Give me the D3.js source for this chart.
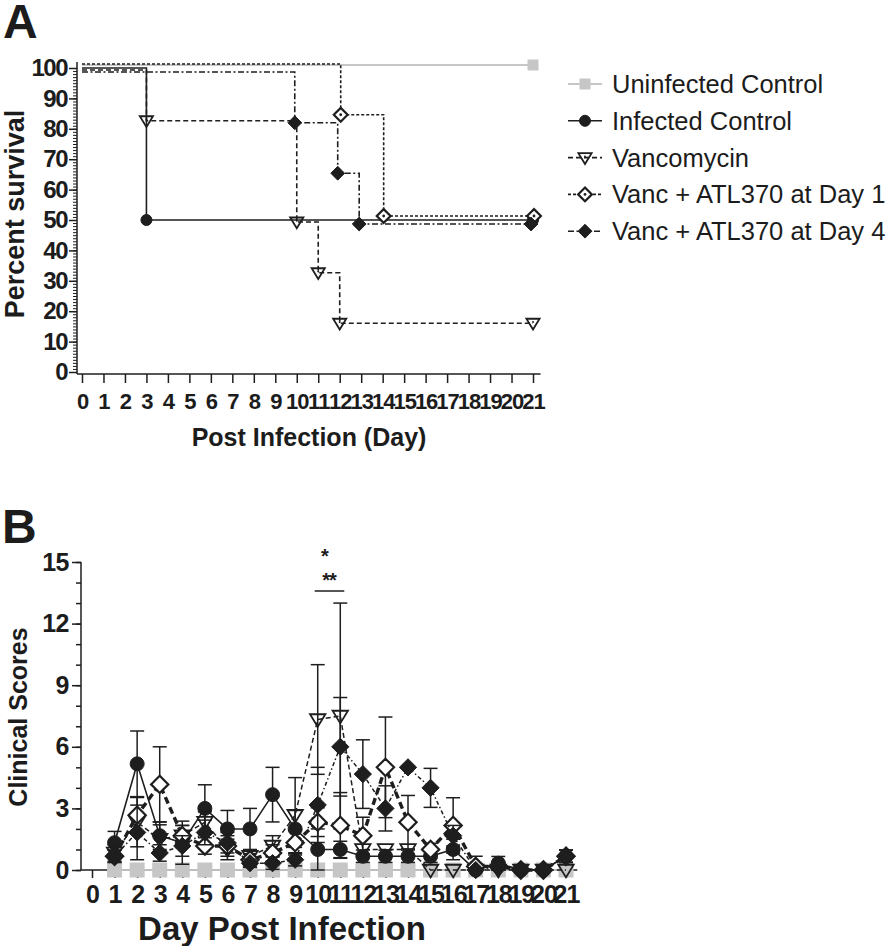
<!DOCTYPE html>
<html><head><meta charset="utf-8">
<script src="https://cdn.jsdelivr.net/npm/d3@7"></script>
<style>
body{margin:0;background:#fff}
text{font-family:"Liberation Sans",Arial,Helvetica,sans-serif;fill:#1c1c1c}
</style>
</head><body>
<svg id="c" width="893" height="946"></svg>
<script>
// ================= DATA =================
const seriesNames = ["Uninfected Control","Infected Control","Vancomycin","Vanc + ATL370 at Day 1","Vanc + ATL370 at Day 4"];

// Panel A: Kaplan–Meier survival (day, percent)
const uninfSurvDays = [0, 21];               const uninfSurv = [100, 100];
const infSurvDays   = [0, 3, 21];            const infSurv   = [100, 50, 50];
const vancSurvDays  = [0, 3, 10, 11, 12, 21]; const vancSurv  = [100, 83.3, 50, 33.3, 16.7, 16.7];
const d1SurvDays    = [0, 12, 14, 21];       const d1Surv    = [100, 83.3, 50, 50];
const d4SurvDays    = [0, 10, 12, 13, 21];   const d4Surv    = [100, 83.3, 66.7, 50, 50];

const dayTicks = [0,1,2,3,4,5,6,7,8,9,10,11,12,13,14,15,16,17,18,19,20,21];
const survTicks = [0,10,20,30,40,50,60,70,80,90,100];
const scoreTicks = [0,3,6,9,12,15];

// Panel B: clinical scores (mean ± SEM), days 1..21
const scoreDays  = [1,2,3,4,5,6,7,8,9,10,11,12,13,14,15,16,17,18,19,20,21];
const uninfScore = [0,0,0,0,0,0,0,0,0,0,0,0,0,0,0,0,0,0,0,0,0];
const infScore   = [1.33,5.17,1.67,1.33,3.0,2.0,2.0,3.67,2.0,1.0,1.0,0.67,0.67,0.67,0.67,1.0,0,0.33,0,0,0.67];
const infSem     = [0.55,1.6,0.67,1.05,1.15,0.9,1.0,1.33,0.9,1.0,0.4,0.3,0.3,0.3,0.3,0.5,0,0.33,0,0,0.3];
const vancScore  = [0.83,2.33,1.5,1.67,2.33,1.0,0.67,1.17,2.67,7.33,7.5,1.0,1.0,1.0,0,0,0,0,0,0,0];
const vancSem    = [0.4,1.2,0.7,0.5,0.5,0.5,0.3,0.5,1.83,2.67,5.5,0,0,0,0,0,0,0,0,0,0];
const d1Score    = [0.67,2.67,4.17,1.67,1.17,1.17,0.5,0.83,1.33,2.33,2.17,1.67,5.0,2.33,1.0,2.17,0.17,0.17,0,0,0.67];
const d1Sem      = [0.3,0.9,1.83,0.5,0.4,0.5,0.3,0.4,0.6,0.7,1.6,0.9,2.45,1.3,0.3,1.35,0.5,0.17,0,0,0.3];
const d4Score    = [0.67,1.83,0.83,1.17,1.83,1.33,0.33,0.33,0.5,3.17,6.0,4.67,3.0,5.0,4.0,1.67,0,0.17,0,0,0.67];
const d4Sem      = [0.3,1.33,0.4,0.5,0.6,0.5,0.2,0.3,0.3,1.83,2.4,1.67,1.1,0,0.95,0.5,0,0.2,0,0,0.3];

const sigDays = [10, 11];
const sigLabels = ["*", "**"];

// ================= STYLES =================
const INK = "#1e1e1e", GRAY = "#c6c6c6";
const styles = [
  {sym:"square",  fill:GRAY,  stroke:GRAY, dash:null,        lineColor:GRAY},
  {sym:"circle",  fill:INK,   stroke:INK,  dash:null,        lineColor:INK},
  {sym:"tri",     fill:"none",stroke:INK,  dash:"5,3",       lineColor:INK},
  {sym:"odiamond",fill:"#fff",stroke:INK,  dash:"3,2",       lineColor:INK},
  {sym:"diamond", fill:INK,   stroke:INK,  dash:"6,2.5,2,2.5",lineColor:INK}
];
const bDash = [null, null, "5,3", "7,4", "4,2.5,1.5,2.5"];
const bWidth = [2, 1.6, 1.5, 3.4, 1.5];

function drawMarker(g, sym, x, y, s, st, dot) {
  if (sym === "circle") {
    g.append("circle").attr("cx",x).attr("cy",y).attr("r",s).attr("fill",st.fill).attr("stroke",st.stroke).attr("stroke-width",1);
  } else if (sym === "square") {
    g.append("rect").attr("x",x-s).attr("y",y-s).attr("width",2*s).attr("height",2*s).attr("fill",st.fill);
  } else if (sym === "tri") {
    const w = s*1.1, h = s*1.0;
    g.append("path").attr("d",`M${x-w},${y-h*0.75}L${x+w},${y-h*0.75}L${x},${y+h*1.05}Z`)
      .attr("fill",st.fill).attr("stroke",st.stroke).attr("stroke-width",1.8).attr("stroke-linejoin","miter");
    if (dot) g.append("circle").attr("cx",x).attr("cy",y-h*0.2).attr("r",1).attr("fill",INK);
  } else if (sym === "odiamond" || sym === "diamond") {
    const r = s*1.15;
    g.append("path").attr("d",`M${x},${y-r}L${x+r},${y}L${x},${y+r}L${x-r},${y}Z`)
      .attr("fill",st.fill).attr("stroke",st.stroke).attr("stroke-width", sym==="odiamond"?2.2:1);
    if (dot && sym==="odiamond") g.append("circle").attr("cx",x).attr("cy",y).attr("r",1.4).attr("fill",INK);
  }
}

const svg = d3.select("#c");

// ================= PANEL A =================
const xA = d3.scaleLinear().domain([0,21]).range([82,533]);
const yA = d3.scaleLinear().domain([0,100]).range([372,68]);
const gA = svg.append("g");

svg.append("text").attr("x",3).attr("y",38).attr("font-size",48).attr("font-weight","bold").text("A");

// axes
const yAxisX = 77, xAxisY = 374;
gA.append("g").attr("transform",`translate(${yAxisX},0)`)
  .call(d3.axisLeft(yA).tickValues(d3.range(0,101,1)).tickSize(4).tickFormat(""))
  .call(g=>{g.select(".domain").remove(); g.selectAll("line").attr("stroke",INK).attr("stroke-width",1);});
gA.append("g").attr("transform",`translate(${yAxisX},0)`)
  .call(d3.axisLeft(yA).tickValues(survTicks).tickSize(8).tickPadding(2))
  .call(g=>{g.select(".domain").remove(); g.selectAll("line").attr("stroke",INK).attr("stroke-width",1.5);
    g.selectAll("text").attr("font-size",24).attr("font-weight","bold").attr("letter-spacing","-1.5px").attr("fill","#1c1c1c")
     .style("font-family",'"Liberation Sans",Arial,sans-serif');});
gA.append("line").attr("x1",yAxisX).attr("x2",yAxisX).attr("y1",xAxisY).attr("y2",yA(102)).attr("stroke",INK).attr("stroke-width",1.5);

gA.append("g").attr("transform",`translate(0,${xAxisY})`)
  .call(d3.axisBottom(xA).tickValues(dayTicks).tickSize(9).tickPadding(10))
  .call(g=>{g.select(".domain").remove(); g.selectAll("line").attr("stroke",INK).attr("stroke-width",1.5);
    g.selectAll("text").attr("font-size",22).attr("font-weight","bold").attr("letter-spacing","-1px").attr("fill","#1c1c1c")
     .style("font-family",'"Liberation Sans",Arial,sans-serif');});
gA.append("line").attr("x1",yAxisX).attr("x2",xA(21.35)).attr("y1",xAxisY).attr("y2",xAxisY).attr("stroke",INK).attr("stroke-width",1.5);

gA.append("text").attr("transform",`translate(24,214) rotate(-90)`).attr("text-anchor","middle")
  .attr("font-size",27).attr("font-weight","bold").text("Percent survival");
gA.append("text").attr("x",309).attr("y",446).attr("text-anchor","middle")
  .attr("font-size",25).attr("font-weight","bold").text("Post Infection (Day)");

// curves
const survSets = [
  [uninfSurvDays, uninfSurv], [infSurvDays, infSurv], [vancSurvDays, vancSurv],
  [d1SurvDays, d1Surv], [d4SurvDays, d4Surv]
];
const offY = [-3, 0, 2, -4, 4];   // Prism-style small offsets so overlapping curves stay visible
const offX = [0, 0, 0, 1, -2];
const drawOrderA = [0, 1, 2, 3, 4];
drawOrderA.forEach(i => {
  const [ds, vs] = survSets[i];
  const st = styles[i];
  const pts = ds.map((d,k)=>[xA(d)+offX[i], yA(vs[k])+offY[i]]);
  pts[0][0] = xA(0);
  const line = d3.line().curve(d3.curveStepAfter);
  gA.append("path").attr("d", line(pts)).attr("fill","none")
    .attr("stroke", st.lineColor).attr("stroke-width", i===0?2:1.6)
    .attr("stroke-dasharray", st.dash);
});
drawOrderA.forEach(i => {
  const [ds, vs] = survSets[i];
  const st = styles[i];
  ds.forEach((d,k)=>{
    if (k===0) return;
    drawMarker(gA, st.sym, xA(d)+offX[i], yA(vs[k])+offY[i], i===0?5.5:(i===1?5.5:6), st, true);
  });
});

// legend
const legG = svg.append("g");
seriesNames.forEach((name,i)=>{
  const y = 84 + i*36.8;
  const st = styles[i];
  legG.append("line").attr("x1",568).attr("x2",602).attr("y1",y).attr("y2",y)
    .attr("stroke",st.lineColor).attr("stroke-width", i===0?2:1.6).attr("stroke-dasharray", st.dash);
  drawMarker(legG, st.sym, 585, y, i===0?5.5:(i===1?5.5:6), st, true);
  legG.append("text").attr("x",612).attr("y",y+9).attr("font-size",25.5).text(name);
});

// ================= PANEL B =================
const xB = d3.scaleLinear().domain([0,21]).range([92,566]);
const yB = d3.scaleLinear().domain([0,15]).range([870,562]);
const gB = svg.append("g");

svg.append("text").attr("x",2).attr("y",543).attr("font-size",48).attr("font-weight","bold").text("B");

const yAxisXB = 81;
gB.append("g").attr("transform",`translate(${yAxisXB},0)`)
  .call(d3.axisLeft(yB).tickValues(d3.range(0,16,1)).tickSize(5).tickFormat(""))
  .call(g=>{g.select(".domain").remove(); g.selectAll("line").attr("stroke",INK).attr("stroke-width",1.5);});
gB.append("g").attr("transform",`translate(${yAxisXB},0)`)
  .call(d3.axisLeft(yB).tickValues(scoreTicks).tickSize(9).tickPadding(3))
  .call(g=>{g.select(".domain").remove(); g.selectAll("line").attr("stroke",INK).attr("stroke-width",1.5);
    g.selectAll("text").attr("font-size",25).attr("font-weight","bold").attr("letter-spacing","-0.5px").attr("fill","#1c1c1c")
     .style("font-family",'"Liberation Sans",Arial,sans-serif');});
gB.append("line").attr("x1",yAxisXB).attr("x2",yAxisXB).attr("y1",yB(0)).attr("y2",yB(15)).attr("stroke",INK).attr("stroke-width",1.5);

gB.append("g").attr("transform",`translate(0,${yB(0)})`)
  .call(d3.axisBottom(xB).tickValues(dayTicks).tickSize(8).tickPadding(7))
  .call(g=>{g.select(".domain").remove(); g.selectAll("line").attr("stroke",INK).attr("stroke-width",1.5);
    g.selectAll("text").attr("font-size",25).attr("font-weight","bold").attr("letter-spacing","-1px").attr("fill","#1c1c1c")
     .style("font-family",'"Liberation Sans",Arial,sans-serif');});
gB.append("line").attr("x1",yAxisXB).attr("x2",xB(21.5)).attr("y1",yB(0)).attr("y2",yB(0)).attr("stroke",INK).attr("stroke-width",1.5);

gB.append("text").attr("transform",`translate(27,717) rotate(-90)`).attr("text-anchor","middle")
  .attr("font-size",25).attr("font-weight","bold").text("Clinical Scores");
gB.append("text").attr("x",282).attr("y",940).attr("text-anchor","middle")
  .attr("font-size",33).attr("font-weight","bold").text("Day Post Infection");

const scoreSets = [
  [uninfScore, null], [infScore, infSem], [vancScore, vancSem], [d1Score, d1Sem], [d4Score, d4Sem]
];
const drawOrderB = [0, 1, 2, 3, 4];
const mSizeB = [7.5, 7, 7, 7.5, 7.5];
drawOrderB.forEach(i => {
  const [vals, sems] = scoreSets[i];
  const st = styles[i];
  const gs = gB.append("g");
  const line = d3.line().x((d,k)=>xB(scoreDays[k])).y(d=>yB(d));
  gs.append("path").attr("d", line(vals)).attr("fill","none")
    .attr("stroke", i===0?"#bdbdbd":INK).attr("stroke-width", bWidth[i]).attr("stroke-dasharray", bDash[i]);
  if (sems) {
    vals.forEach((v,k)=>{
      const s = sems[k]; if (!s) return;
      const x = xB(scoreDays[k]);
      const lo = Math.max(0, v - s), hi = v + s;
      gs.append("line").attr("x1",x).attr("x2",x).attr("y1",yB(lo)).attr("y2",yB(hi)).attr("stroke",INK).attr("stroke-width",1.5);
      [lo,hi].forEach(e=>gs.append("line").attr("x1",x-7).attr("x2",x+7).attr("y1",yB(e)).attr("y2",yB(e)).attr("stroke",INK).attr("stroke-width",1.5));
    });
  }
  vals.forEach((v,k)=> drawMarker(gs, st.sym, xB(scoreDays[k]), yB(v), mSizeB[i], st, false));
});

// significance annotation
const sigG = gB.append("g");
sigG.append("line").attr("x1",xB(sigDays[0])-3).attr("x2",xB(sigDays[1])+4).attr("y1",591).attr("y2",591).attr("stroke",INK).attr("stroke-width",1.5);
const midX = xB((sigDays[0]+sigDays[1])/2);
sigG.append("text").attr("x",midX-4).attr("y",563).attr("text-anchor","middle").attr("font-size",20).attr("font-weight","bold").text(sigLabels[0]);
sigG.append("text").attr("x",midX).attr("y",587).attr("text-anchor","middle").attr("font-size",20).attr("font-weight","bold").attr("letter-spacing","-1px").text(sigLabels[1]);
</script>
</body></html>
